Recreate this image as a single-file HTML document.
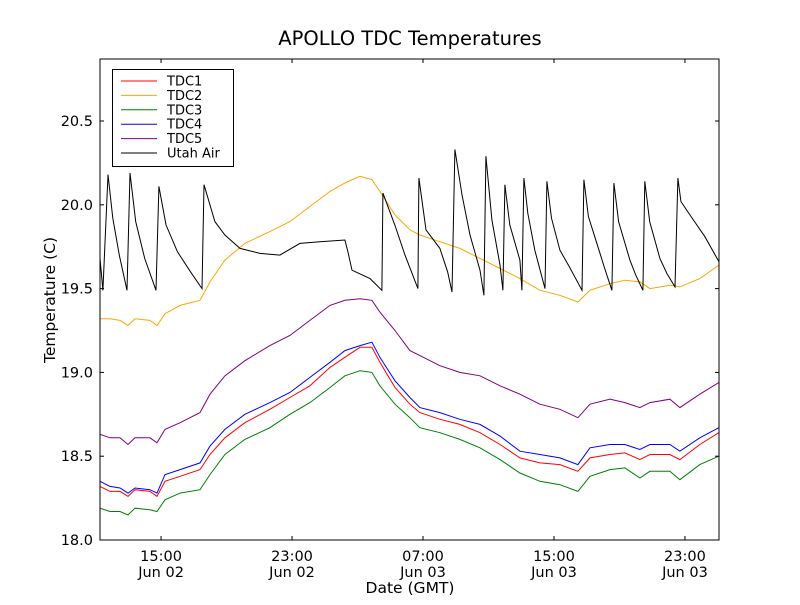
<!DOCTYPE html>
<html><head><meta charset="utf-8"><style>
body{margin:0;background:#fff;}
svg text{font-family:"DejaVu Sans","Liberation Sans",sans-serif;}
</style></head><body>
<svg id="chart" width="800" height="600" xmlns="http://www.w3.org/2000/svg">
<rect width="800" height="600" fill="#fff"/>
<text x="410" y="45" font-size="19.5" text-anchor="middle">APOLLO TDC Temperatures</text>
<g id="plot"></g>
</svg>
<script>
const tTimes=[11.27,11.88,12.49,12.98,13.41,14.32,14.75,15.24,16.16,17.38,17.99,18.90,20.12,21.65,22.87,24.09,25.32,26.23,27.15,27.88,28.37,29.29,30.20,30.81,32.03,33.25,34.48,35.70,36.92,38.14,39.36,40.46,41.20,42.42,43.33,44.25,44.86,46.08,46.69,47.91,49.07];
const tdc1=[18.32,18.29,18.29,18.26,18.30,18.29,18.26,18.35,18.38,18.42,18.51,18.61,18.70,18.78,18.85,18.92,19.03,19.09,19.15,19.15,19.06,18.91,18.81,18.76,18.72,18.69,18.64,18.57,18.49,18.46,18.45,18.41,18.49,18.51,18.52,18.48,18.51,18.51,18.48,18.57,18.64];
const tdc2=[19.32,19.32,19.31,19.28,19.32,19.31,19.28,19.35,19.40,19.43,19.54,19.67,19.77,19.84,19.90,19.99,20.08,20.13,20.17,20.15,20.08,19.94,19.85,19.82,19.78,19.74,19.68,19.62,19.56,19.49,19.46,19.42,19.49,19.53,19.55,19.54,19.50,19.52,19.51,19.56,19.64];
const tdc3=[18.19,18.17,18.17,18.15,18.19,18.18,18.17,18.24,18.28,18.30,18.39,18.51,18.60,18.67,18.75,18.82,18.91,18.98,19.01,19.00,18.92,18.81,18.73,18.67,18.64,18.60,18.55,18.48,18.40,18.35,18.33,18.29,18.38,18.42,18.43,18.37,18.41,18.41,18.36,18.45,18.50];
const tdc4=[18.35,18.32,18.31,18.28,18.31,18.30,18.28,18.39,18.42,18.46,18.56,18.66,18.75,18.82,18.88,18.97,19.06,19.13,19.16,19.18,19.09,18.95,18.85,18.79,18.76,18.72,18.69,18.62,18.53,18.51,18.49,18.45,18.55,18.57,18.57,18.54,18.57,18.57,18.53,18.61,18.67];
const tdc5=[18.63,18.61,18.61,18.57,18.61,18.61,18.58,18.66,18.70,18.76,18.87,18.98,19.07,19.16,19.22,19.31,19.40,19.43,19.44,19.43,19.36,19.25,19.13,19.10,19.04,19.00,18.98,18.92,18.87,18.81,18.78,18.73,18.81,18.84,18.82,18.79,18.82,18.84,18.79,18.87,18.94];
const airTimes=[11.27,11.45,11.76,12.05,12.45,12.92,13.10,13.45,14.00,14.69,14.87,15.30,16.00,16.80,17.50,17.62,18.29,18.90,19.82,21.04,22.26,23.48,24.71,26.23,26.41,26.66,27.76,28.49,28.55,29.28,29.90,30.69,30.75,31.18,32.03,32.50,32.77,32.95,33.38,33.87,34.48,34.72,34.84,35.21,35.70,35.88,36.00,36.30,36.92,37.04,37.16,37.40,37.83,38.45,38.57,38.85,39.36,40.00,40.71,40.83,41.10,41.68,42.10,42.54,42.66,42.95,43.64,44.00,44.43,44.55,44.85,45.47,45.90,46.39,46.57,46.75,47.30,48.22,49.08];
const air=[19.68,19.49,20.18,19.92,19.70,19.49,20.19,19.90,19.68,19.49,20.11,19.88,19.72,19.60,19.50,20.12,19.90,19.82,19.74,19.71,19.70,19.77,19.78,19.79,19.72,19.61,19.56,19.49,20.07,19.88,19.70,19.50,20.16,19.85,19.74,19.60,19.48,20.33,20.06,19.82,19.61,19.46,20.29,19.91,19.64,19.49,20.12,19.88,19.67,19.49,20.16,19.95,19.73,19.50,20.14,19.92,19.73,19.62,19.49,20.15,19.93,19.75,19.62,19.49,20.13,19.90,19.67,19.58,19.49,20.14,19.90,19.68,19.59,19.51,20.16,20.02,19.94,19.81,19.66];
const yTicks=[18.0,18.5,19.0,19.5,20.0,20.5];
const xTicks=[15,23,31,39,47];
const xTickTimes=["15:00","23:00","07:00","15:00","23:00"];
const xTickDates=["Jun 02","Jun 02","Jun 03","Jun 03","Jun 03"];
const seriesNames=["TDC1","TDC2","TDC3","TDC4","TDC5","Utah Air"];
const seriesColors=["red","orange","green","blue","purple","black"];

const L=100,R=719,T=59,B=540,xMin=11.27,xMax=49.08,yMin=18,yMax=20.87;
const X=h=>L+(h-xMin)/(xMax-xMin)*(R-L);
const Y=v=>B-(v-yMin)/(yMax-yMin)*(B-T);
const NS="http://www.w3.org/2000/svg";
const g=document.getElementById('plot');
function mk(tag,at,parent){const e=document.createElementNS(NS,tag);for(const k in at)e.setAttribute(k,at[k]);(parent||g).appendChild(e);return e;}
const clip=mk('clipPath',{id:'c'});mk('rect',{x:L,y:T,width:R-L,height:B-T},clip);
const data=[[tTimes,tdc1],[tTimes,tdc2],[tTimes,tdc3],[tTimes,tdc4],[tTimes,tdc5],[airTimes,air]];
data.forEach((d,i)=>{
  const pts=d[0].map((t,j)=>X(t).toFixed(1)+','+Y(d[1][j]).toFixed(1)).join(' ');
  const p=mk('polyline',{points:pts,fill:'none',stroke:seriesColors[i],'stroke-width':1,'clip-path':'url(#c)'});
  
  
});
const frame=mk('rect',{x:L,y:T,width:R-L,height:B-T,fill:'none',stroke:'#000','stroke-width':1});


yTicks.forEach(v=>{
  const y=Y(v);
  mk('line',{x1:L,x2:L+4,y1:y,y2:y,stroke:'#000'});
  mk('line',{x1:R-4,x2:R,y1:y,y2:y,stroke:'#000'});
  const t=mk('text',{x:L-7,y:y+5,'font-size':14.5,'text-anchor':'end'});t.textContent=v.toFixed(1);
  
  
});
xTicks.forEach((h,i)=>{
  const x=X(h);
  mk('line',{x1:x,x2:x,y1:B,y2:B-4,stroke:'#000'});
  mk('line',{x1:x,x2:x,y1:T,y2:T+4,stroke:'#000'});
  const t=mk('text',{x:x,y:B+21,'font-size':14.5,'text-anchor':'middle'});t.textContent=xTickTimes[i];
  
  
  const t2=mk('text',{x:x,y:B+37,'font-size':14.5,'text-anchor':'middle'});t2.textContent=xTickDates[i];
  
  
});
const xl=mk('text',{x:410,y:593,'font-size':15.5,'text-anchor':'middle'});xl.textContent='Date (GMT)';


const yl=mk('text',{x:0,y:0,'font-size':15.5,'text-anchor':'middle',transform:'translate(55,300) rotate(-90)'});yl.textContent='Temperature (C)';


const lg=mk('g',{});


mk('rect',{x:112.5,y:69.5,width:121,height:97,fill:'#fff',stroke:'#000'},lg);
seriesNames.forEach((n,i)=>{
  const y=81+i*14.4;
  const e=mk('g',{},lg);
  
  
  mk('line',{x1:121,x2:157,y1:y,y2:y,stroke:seriesColors[i]},e);
  const t=mk('text',{x:167,y:y+4.5,'font-size':13},e);t.textContent=n;
});
</script>
</body></html>
